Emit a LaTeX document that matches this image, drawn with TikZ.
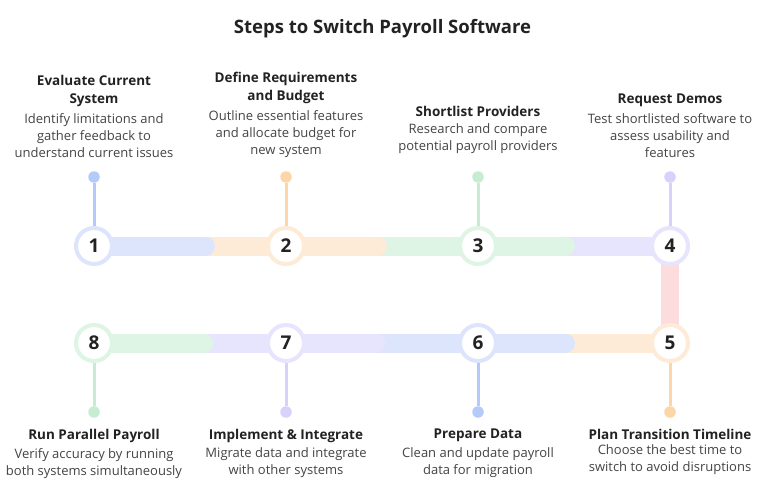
\documentclass[tikz,border=0pt]{standalone}
\usepackage{fontspec}
\setmainfont{Open Sans}
\definecolor{blueBar}{HTML}{DCE5FC}
\definecolor{blueStem}{HTML}{B4CBFA}
\definecolor{peachBar}{HTML}{FEEBD7}
\definecolor{peachStem}{HTML}{FDD6A8}
\definecolor{greenBar}{HTML}{DEF4E5}
\definecolor{greenStem}{HTML}{C6ECD2}
\definecolor{lavBar}{HTML}{E7E4FD}
\definecolor{lavStem}{HTML}{D7D2FC}
\definecolor{pinkBar}{HTML}{FCDCDC}
\definecolor{headC}{HTML}{222222}
\definecolor{bodyC}{HTML}{444444}
\tikzset{
  barline/.style={line width=19pt, line cap=round},
  stepcircle/.style={circle, minimum size=36pt, inner sep=0pt, fill=white, draw=#1, line width=4pt,
     font=\fontsize{19}{19}\selectfont\bfseries, text=headC},
  stemdot/.style={circle, minimum size=11.5pt, inner sep=0pt, fill=#1},
  stemline/.style={line width=3pt, draw=#1},
  headtxt/.style={align=center, inner sep=0pt, font=\fontsize{13.5}{18}\selectfont\bfseries, text=headC},
  bodytxt/.style={align=center, inner sep=0pt, font=\fontsize{13}{17}\selectfont, text=bodyC},
}
\begin{document}
\begin{tikzpicture}[x=1pt,y=-1pt]
\useasboundingbox (0,0) rectangle (765,500);
\fill[white] (0,0) rectangle (765,500);
\node[font=\fontsize{18.5}{22}\selectfont\bfseries, text=headC] (title) at (382.5,28.5) {Steps to Switch Payroll Software};
% coordinates
\coordinate (p1) at (94,246);
\coordinate (p2) at (286,246);
\coordinate (p3) at (478,246);
\coordinate (p4) at (670,246);
\coordinate (p5) at (670,343);
\coordinate (p6) at (478,343);
\coordinate (p7) at (286,343);
\coordinate (p8) at (94,343);
\coordinate (e1) at (205.5,246);
\coordinate (e2) at (377.5,246);
\coordinate (e3) at (565.5,246);
\coordinate (e8) at (204,343);
\coordinate (e7) at (376,343);
\coordinate (e6) at (565.5,343);
% vertical connector
\draw[line width=18pt, draw=pinkBar] (p4) -- (p5);
% top bars
\draw[barline, draw=lavBar] (p3) -- (p4);
\draw[barline, draw=greenBar] (p2) -- (e3);
\draw[barline, draw=peachBar] (p1) -- (e2);
\draw[barline, draw=blueBar] (p1) -- (e1);
% bottom bars
\draw[barline, draw=peachBar] (p6) -- (p5);
\draw[barline, draw=blueBar] (p7) -- (e6);
\draw[barline, draw=lavBar] (p8) -- (e7);
\draw[barline, draw=greenBar] (p8) -- (e8);
% circles
\node[stepcircle=blueBar] (c1) at (p1) {1};
\node[stepcircle=peachBar] (c2) at (p2) {2};
\node[stepcircle=greenBar] (c3) at (p3) {3};
\node[stepcircle=lavBar] (c4) at (p4) {4};
\node[stepcircle=peachBar] (c5) at (p5) {5};
\node[stepcircle=blueBar] (c6) at (p6) {6};
\node[stepcircle=lavBar] (c7) at (p7) {7};
\node[stepcircle=greenBar] (c8) at (p8) {8};
% dots and stems
\node[stemdot=blueStem] (d1) at (94,177) {};
\node[stemdot=peachStem] (d2) at (286,177) {};
\node[stemdot=greenStem] (d3) at (478,177) {};
\node[stemdot=lavStem] (d4) at (670,177) {};
\node[stemdot=peachStem] (d5) at (670,412) {};
\node[stemdot=blueStem] (d6) at (478,412) {};
\node[stemdot=lavStem] (d7) at (286,412) {};
\node[stemdot=greenStem] (d8) at (94,412) {};
\draw[stemline=blueStem] (d1) -- (c1);
\draw[stemline=peachStem] (d2) -- (c2);
\draw[stemline=greenStem] (d3) -- (c3);
\draw[stemline=lavStem] (d4) -- (c4);
\draw[stemline=peachStem] (d5) -- (c5);
\draw[stemline=blueStem] (d6) -- (c6);
\draw[stemline=lavStem] (d7) -- (c7);
\draw[stemline=greenStem] (d8) -- (c8);
% top texts
\node[bodytxt, anchor=south] (b1) at (94,158) {Identify limitations and\\gather feedback to\\understand current issues};
\node[headtxt, anchor=south] (h1) at ([yshift=7pt]b1.north) {Evaluate Current\\System};
\node[bodytxt, anchor=south] (b2) at (286,158) {Outline essential features\\and allocate budget for\\new system};
\node[headtxt, anchor=south] (h2) at ([yshift=7pt]b2.north) {Define Requirements\\and Budget};
\node[bodytxt, anchor=south] (b3) at (478,154) {Research and compare\\potential payroll providers};
\node[headtxt, anchor=south] (h3) at ([yshift=7pt]b3.north) {Shortlist Providers};
\node[bodytxt, anchor=south] (b4) at (670,158) {Test shortlisted software to\\assess usability and\\features};
\node[headtxt, anchor=south] (h4) at ([yshift=7pt]b4.north) {Request Demos};
% bottom texts
\node[headtxt, anchor=north] (h8) at (94,429) {Run Parallel Payroll};
\node[bodytxt, anchor=north] (b8) at ([yshift=-5pt]h8.south) {Verify accuracy by running\\both systems simultaneously};
\node[headtxt, anchor=north] (h7) at (286,429) {Implement \& Integrate};
\node[bodytxt, anchor=north] (b7) at ([yshift=-5pt]h7.south) {Migrate data and integrate\\with other systems};
\node[headtxt, anchor=north] (h6) at (478,429) {Prepare Data};
\node[bodytxt, anchor=north] (b6) at ([yshift=-5pt]h6.south) {Clean and update payroll\\data for migration};
\node[headtxt, anchor=north] (h5) at (670,429) {Plan Transition Timeline};
\node[bodytxt, anchor=north] (b5) at ([yshift=-5pt]h5.south) {Choose the best time to\\switch to avoid disruptions};
\end{tikzpicture}
\end{document}
